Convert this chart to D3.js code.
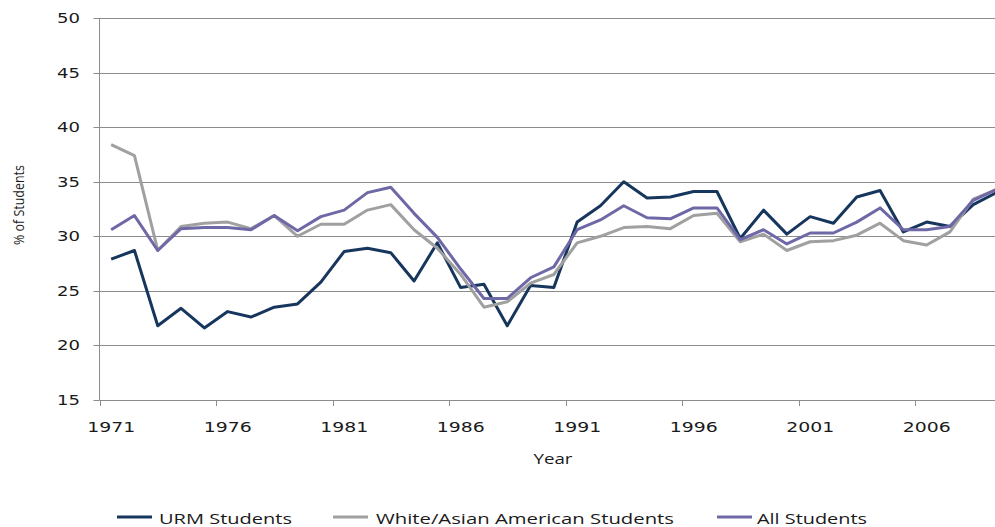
<!DOCTYPE html>
<html>
<head>
<meta charset="utf-8">
<script src="https://cdn.jsdelivr.net/npm/d3@7"></script>
<style>
  body { margin: 0; background: #fff; }
  svg { display: block; }
</style>
</head>
<body>
<svg width="995" height="527"></svg>
<script>
// Data
var years = d3.range(1971, 2010);
var yTicks = [15, 20, 25, 30, 35, 40, 45, 50];
var xTickYears = [1971, 1976, 1981, 1986, 1991, 1996, 2001, 2006];

var urm = [27.9, 28.7, 21.8, 23.4, 21.6, 23.1, 22.6, 23.5, 23.8, 25.8,
	28.6, 28.9, 28.5, 25.9, 29.4, 25.3, 25.6, 21.8, 25.5, 25.3,
	31.3, 32.8, 35.0, 33.5, 33.6, 34.1, 34.1, 29.8, 32.4, 30.2,
	31.8, 31.2, 33.6, 34.2, 30.4, 31.3, 30.9, 32.9, 34.0];
var whiteAsian = [38.4, 37.4, 28.7, 30.9, 31.2, 31.3, 30.7, 31.9, 30.0, 31.1,
	31.1, 32.4, 32.9, 30.6, 28.9, 26.5, 23.5, 24.0, 25.7, 26.5,
	29.4, 30.0, 30.8, 30.9, 30.7, 31.9, 32.1, 29.5, 30.2, 28.7,
	29.5, 29.6, 30.1, 31.2, 29.6, 29.2, 30.4, 33.4, 34.3];
var allStudents = [30.6, 31.9, 28.7, 30.7, 30.8, 30.8, 30.6, 31.9, 30.5, 31.8,
	32.4, 34.0, 34.5, 32.1, 29.9, 27.0, 24.3, 24.3, 26.2, 27.2,
	30.6, 31.5, 32.8, 31.7, 31.6, 32.6, 32.6, 29.7, 30.6, 29.3,
	30.3, 30.3, 31.3, 32.6, 30.6, 30.6, 30.9, 33.3, 34.3];

var seriesNames = ["URM Students", "White/Asian American Students", "All Students"];
var seriesColors = ["#17365d", "#a0a0a0", "#6e68a6"];

var series = [urm, whiteAsian, allStudents].map(function(vals, i) {
	return { name: seriesNames[i], color: seriesColors[i], values: vals };
});

var svg = d3.select("svg");
var plotLeft = 99.5, plotTop = 18, plotBottom = 400;
var step = 23.3;

var x = d3.scaleBand()
	.domain(years)
	.range([plotLeft, plotLeft + step * years.length]);

var y = d3.scaleLinear()
	.domain([15, 50])
	.range([plotBottom, plotTop]);

var tickFont = "'DejaVu Sans', Verdana, sans-serif";
var labelFont = "'Open Sans', 'Noto Sans', sans-serif";

// Horizontal gridlines
svg.append("g")
	.selectAll("line")
	.data(yTicks)
	.enter().append("line")
	.attr("x1", plotLeft)
	.attr("x2", 995)
	.attr("y1", d => Math.round(y(d)) + 0.5)
	.attr("y2", d => Math.round(y(d)) + 0.5)
	.attr("stroke", "#8c8c8c")
	.attr("stroke-width", 1);

// Y axis line and ticks
svg.append("line")
	.attr("x1", plotLeft).attr("x2", plotLeft)
	.attr("y1", plotTop).attr("y2", plotBottom + 0.5)
	.attr("stroke", "#8c8c8c");

svg.append("g")
	.selectAll("line")
	.data(yTicks)
	.enter().append("line")
	.attr("x1", plotLeft - 6)
	.attr("x2", plotLeft)
	.attr("y1", d => Math.round(y(d)) + 0.5)
	.attr("y2", d => Math.round(y(d)) + 0.5)
	.attr("stroke", "#8c8c8c");

svg.append("g")
	.selectAll("text")
	.data(yTicks)
	.enter().append("text")
	.attr("x", 80)
	.attr("y", d => y(d) + 5)
	.attr("text-anchor", "end")
	.attr("textLength", 23)
	.attr("lengthAdjust", "spacingAndGlyphs")
	.style("font-family", tickFont)
	.style("font-size", "14px")
	.style("fill", "#1a1a1a")
	.text(d => d);

// X axis ticks at category boundaries every 5 years
svg.append("g")
	.selectAll("line")
	.data(xTickYears)
	.enter().append("line")
	.attr("x1", d => Math.round(x(d)) + 0.5)
	.attr("x2", d => Math.round(x(d)) + 0.5)
	.attr("y1", plotBottom)
	.attr("y2", plotBottom + 6)
	.attr("stroke", "#8c8c8c");

svg.append("g")
	.selectAll("text")
	.data(xTickYears)
	.enter().append("text")
	.attr("x", d => x(d) + x.bandwidth() / 2)
	.attr("y", 432)
	.attr("text-anchor", "middle")
	.attr("textLength", 48)
	.attr("lengthAdjust", "spacingAndGlyphs")
	.style("font-family", tickFont)
	.style("font-size", "14px")
	.style("fill", "#1a1a1a")
	.text(d => d);

// Axis titles
svg.append("text")
	.attr("x", 553)
	.attr("y", 464)
	.attr("text-anchor", "middle")
	.attr("textLength", 39)
	.attr("lengthAdjust", "spacingAndGlyphs")
	.style("font-family", labelFont)
	.style("font-size", "15px")
	.style("fill", "#1a1a1a")
	.text("Year");

svg.append("text")
	.attr("transform", "translate(24,205) rotate(-90)")
	.attr("text-anchor", "middle")
	.attr("textLength", 80)
	.attr("lengthAdjust", "spacingAndGlyphs")
	.style("font-family", labelFont)
	.style("font-size", "15px")
	.style("fill", "#1a1a1a")
	.text("% of Students");

// Lines
var line = d3.line()
	.x((d, i) => x(years[i]) + x.bandwidth() / 2)
	.y(d => y(d));

svg.append("g")
	.selectAll("path")
	.data(series)
	.enter().append("path")
	.attr("d", d => line(d.values))
	.attr("fill", "none")
	.attr("stroke", d => d.color)
	.attr("stroke-width", 3)
	.attr("stroke-linejoin", "round");

// Legend
var legendPos = [
	{ lx: 117, tx: 159, tw: 133 },
	{ lx: 333, tx: 376, tw: 298 },
	{ lx: 717, tx: 757, tw: 110 }
];

var legend = svg.append("g")
	.selectAll("g")
	.data(series)
	.enter().append("g");

legend.append("line")
	.attr("x1", (d, i) => legendPos[i].lx)
	.attr("x2", (d, i) => legendPos[i].lx + 35)
	.attr("y1", 517)
	.attr("y2", 517)
	.attr("stroke", d => d.color)
	.attr("stroke-width", 3);

legend.append("text")
	.attr("x", (d, i) => legendPos[i].tx)
	.attr("y", 523.5)
	.attr("textLength", (d, i) => legendPos[i].tw)
	.attr("lengthAdjust", "spacingAndGlyphs")
	.style("font-family", labelFont)
	.style("font-size", "15px")
	.style("fill", "#1a1a1a")
	.text(d => d.name);
</script>
</body>
</html>
